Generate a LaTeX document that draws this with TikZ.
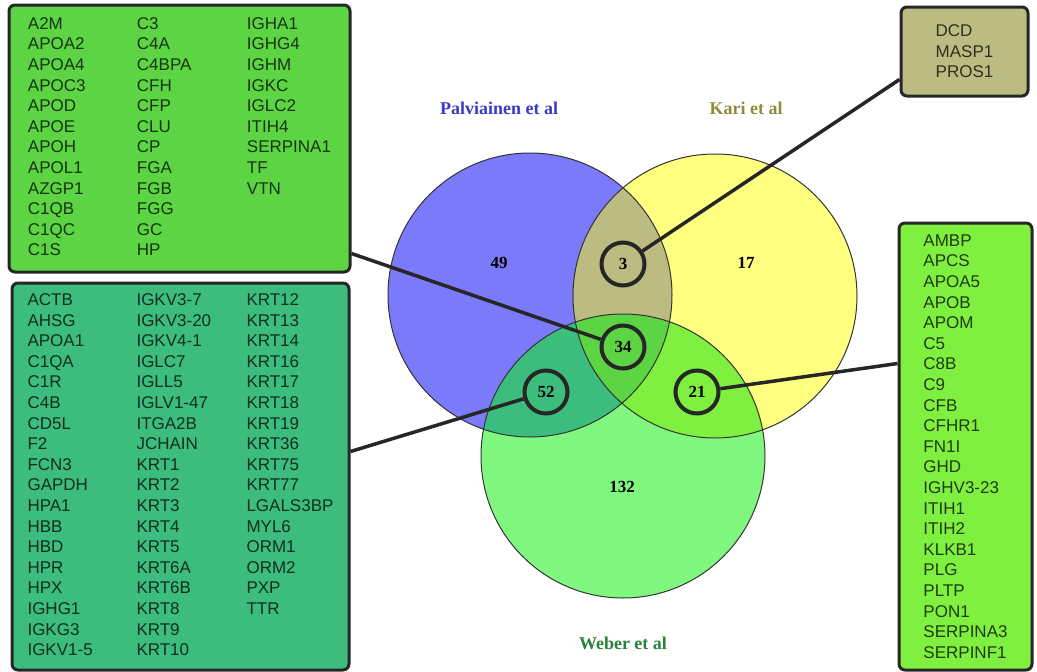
\documentclass[tikz,border=0pt]{standalone}
\usepackage{fontspec}
\setmainfont{Liberation Sans}
\newfontfamily\vennfont{Liberation Serif}

\definecolor{palfill}{RGB}{122,122,250}
\definecolor{karfill}{RGB}{255,255,128}
\definecolor{webfill}{RGB}{128,248,128}
\definecolor{pkfill}{RGB}{188,188,130}
\definecolor{pwfill}{RGB}{61,189,125}
\definecolor{kwfill}{RGB}{128,240,64}
\definecolor{allfill}{RGB}{92,212,68}
\definecolor{paltext}{RGB}{58,58,200}
\definecolor{kartext}{RGB}{140,140,60}
\definecolor{webtext}{RGB}{40,130,60}
\definecolor{edgedark}{RGB}{38,38,38}

\newcommand\genefont{\fontsize{17}{20.6}\selectfont\setlength\tabcolsep{0pt}}

\tikzset{
  genebox/.style={draw=edgedark, line width=3pt, rounded corners=6pt, inner sep=0pt, align=left, font=\genefont},
  ring/.style={circle, draw=edgedark, line width=4pt, minimum size=43pt, inner sep=0pt},
  count/.style={font=\vennfont\bfseries\fontsize{17}{17}\selectfont},
  setname/.style={font=\vennfont\bfseries\fontsize{18}{18}\selectfont},
  link/.style={draw=edgedark, line width=3.5pt},
  setedge/.style={draw=black!80, line width=1pt}
}

\begin{document}
\begin{tikzpicture}[x=1pt, y=-1pt]
  %%%%% START %%%%%
  \useasboundingbox (0,0) rectangle (1037,672);

  \coordinate (pc) at (530,295);
  \coordinate (kc) at (715,296);
  \coordinate (wc) at (623,456);

  % the three sets
  \fill[palfill] (pc) circle (142pt);
  \fill[karfill] (kc) circle (142pt);
  \fill[webfill] (wc) circle (142pt);
  \begin{scope}
    \clip (kc) circle (142pt);
    \fill[kwfill] (wc) circle (142pt);
  \end{scope}
  \begin{scope}
    \clip (pc) circle (142pt);
    \fill[pkfill] (kc) circle (142pt);
    \fill[pwfill] (wc) circle (142pt);
    \clip (kc) circle (142pt);
    \fill[allfill] (wc) circle (142pt);
  \end{scope}
  \draw[setedge] (pc) circle (142pt);
  \draw[setedge] (kc) circle (142pt);
  \draw[setedge] (wc) circle (142pt);

  \node[setname, text=paltext] (palname) at (499,108) {Palviainen et al};
  \node[setname, text=kartext] (karname) at (746,108) {Kari et al};
  \node[setname, text=webtext] (webname) at (623,643) {Weber et al};

  \node[count] (n49) at (499,263) {49};
  \node[count] (n17) at (746,263) {17};
  \node[count] (n132) at (622,487) {132};
  \node[ring, count] (n3) at (623,264) {3};
  \node[ring, count] (n34) at (623,347) {34};
  \node[ring, count] (n52) at (546,392) {52};
  \node[ring, count] (n21) at (697,392) {21};

  % gene lists
  \node[genebox, fill=allfill, text=allfill!25!black, minimum width=341pt, minimum height=267pt] (allbox) at (179.5,138.5) {%
    \begin{tabular}{p{109pt}p{110pt}l}
      A2M & C3 & IGHA1\\
      APOA2 & C4A & IGHG4\\
      APOA4 & C4BPA & IGHM\\
      APOC3 & CFH & IGKC\\
      APOD & CFP & IGLC2\\
      APOE & CLU & ITIH4\\
      APOH & CP & SERPINA1\\
      APOL1 & FGA & TF\\
      AZGP1 & FGB & VTN\\
      C1QB & FGG & \\
      C1QC & GC & \\
      C1S & HP &
    \end{tabular}};
  \node[genebox, fill=pwfill, text=pwfill!25!black, minimum width=337pt, minimum height=387pt] (pwbox) at (180.5,476.5) {%
    \begin{tabular}{p{109pt}p{110pt}l}
      ACTB & IGKV3-7 & KRT12\\
      AHSG & IGKV3-20 & KRT13\\
      APOA1 & IGKV4-1 & KRT14\\
      C1QA & IGLC7 & KRT16\\
      C1R & IGLL5 & KRT17\\
      C4B & IGLV1-47 & KRT18\\
      CD5L & ITGA2B & KRT19\\
      F2 & JCHAIN & KRT36\\
      FCN3 & KRT1 & KRT75\\
      GAPDH & KRT2 & KRT77\\
      HPA1 & KRT3 & LGALS3BP\\
      HBB & KRT4 & MYL6\\
      HBD & KRT5 & ORM1\\
      HPR & KRT6A & ORM2\\
      HPX & KRT6B & PXP\\
      IGHG1 & KRT8 & TTR\\
      IGKG3 & KRT9 & \\
      IGKV1-5 & KRT10 &
    \end{tabular}};
  \node[genebox, fill=kwfill, text=kwfill!25!black, minimum width=133pt, minimum height=447pt] (kwbox) at (965.5,446.5) {%
    AMBP\\ APCS\\ APOA5\\ APOB\\ APOM\\ C5\\ C8B\\ C9\\ CFB\\ CFHR1\\ FN1I\\
    GHD\\ IGHV3-23\\ ITIH1\\ ITIH2\\ KLKB1\\ PLG\\ PLTP\\ PON1\\ SERPINA3\\ SERPINF1};
  \node[genebox, fill=pkfill, text=pkfill!25!black, minimum width=127pt, minimum height=89pt] (pkbox) at (964.5,51.5) {%
    DCD\\ MASP1\\ PROS1};

  % connectors
  \draw[link] ([yshift=20pt]allbox.south east) -- (n34);
  \draw[link] ([yshift=-170pt]pwbox.north east) -- (n52);
  \draw[link] ([yshift=-142pt]kwbox.north west) -- (n21);
  \draw[link] ([yshift=18pt]pkbox.south west) -- (n3);
  %%%%% END %%%%%
\end{tikzpicture}
\end{document}
